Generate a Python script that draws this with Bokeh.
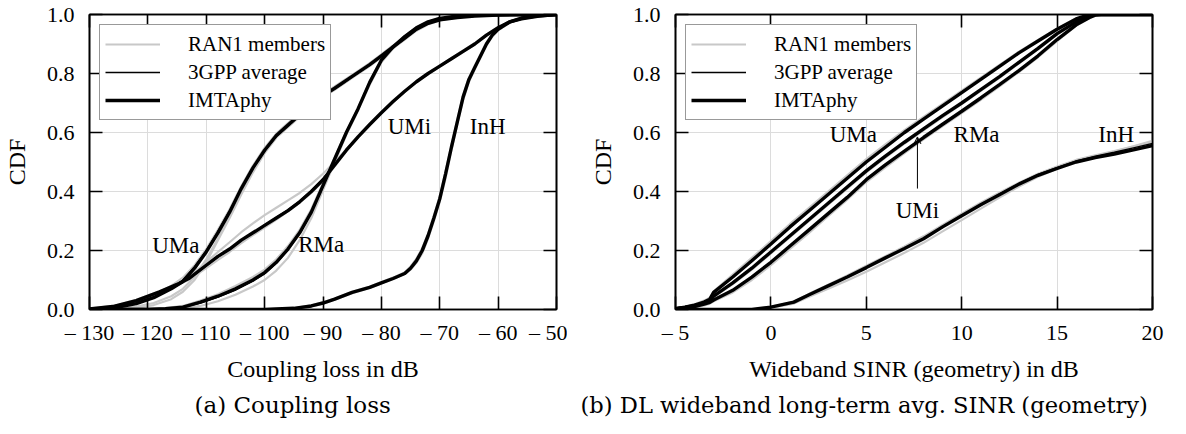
from bokeh.plotting import figure
from bokeh.layouts import row
from bokeh.models import (Legend, LegendItem, FixedTicker, LinearAxis, Title,
                          Label, Arrow, OpenHead, Range1d)
from bokeh.embed import file_html
from bokeh.resources import INLINE

FONT = "Liberation Serif"
CAP_FONT = "DejaVu Serif"

# ---------------- (a) Coupling loss data ----------------
cl_ticks = [-130, -120, -110, -100, -90, -80, -70, -60, -50]
cl_tick_labels = ["– 130", "– 120", "– 110", "– 100", "– 90", "– 80", "– 70", "– 60", "– 50"]
cdf_ticks = [0.0, 0.2, 0.4, 0.6, 0.8, 1.0]
cdf_tick_labels = ["0.0", "0.2", "0.4", "0.6", "0.8", "1.0"]

uma_cl_x = [-130, -126, -122, -119, -116, -114, -112, -110, -108, -106, -104, -102, -100, -98, -96, -94,
            -92, -90, -88, -85, -82, -80, -78, -76, -74, -72, -70, -67, -64, -60, -55, -50]
uma_cl_imt = [0.0, 0.005, 0.02, 0.04, 0.07, 0.095, 0.14, 0.195, 0.26, 0.33, 0.41, 0.48, 0.54, 0.59, 0.625, 0.66,
              0.695, 0.725, 0.75, 0.79, 0.83, 0.86, 0.89, 0.92, 0.95, 0.97, 0.982, 0.99, 0.995, 0.998, 1.0, 1.0]
uma_cl_avg = [0.0, 0.006, 0.022, 0.043, 0.072, 0.1, 0.145, 0.2, 0.265, 0.335, 0.41, 0.478, 0.537, 0.586, 0.622, 0.657,
              0.692, 0.722, 0.748, 0.788, 0.828, 0.858, 0.888, 0.918, 0.948, 0.968, 0.981, 0.99, 0.995, 0.998, 1.0, 1.0]
uma_cl_m1 = [0.0, 0.002, 0.01, 0.022, 0.045, 0.07, 0.11, 0.17, 0.24, 0.315, 0.395, 0.47, 0.535, 0.585, 0.622, 0.657,
             0.69, 0.72, 0.745, 0.785, 0.825, 0.855, 0.885, 0.915, 0.945, 0.966, 0.98, 0.99, 0.995, 0.998, 1.0, 1.0]
uma_cl_m2 = [0.001, 0.008, 0.027, 0.05, 0.08, 0.108, 0.15, 0.205, 0.27, 0.34, 0.418, 0.488, 0.548, 0.596, 0.632, 0.667,
             0.7, 0.73, 0.756, 0.795, 0.835, 0.865, 0.895, 0.925, 0.953, 0.972, 0.984, 0.991, 0.996, 0.999, 1.0, 1.0]
uma_cl_m3 = [0.0, 0.001, 0.005, 0.015, 0.035, 0.06, 0.1, 0.16, 0.235, 0.31, 0.39, 0.465, 0.53, 0.582, 0.618, 0.653,
             0.688, 0.72, 0.748, 0.788, 0.83, 0.86, 0.89, 0.92, 0.95, 0.97, 0.982, 0.99, 0.995, 0.998, 1.0, 1.0]

umi_cl_x = [-130, -126, -122, -118, -115, -113, -110, -108, -106, -104, -102, -100, -98, -96, -94, -92, -90, -88,
            -86, -84, -82, -80, -78, -76, -74, -72, -70, -68, -66, -64, -62, -60, -58, -56, -53, -50]
umi_cl_imt = [0.002, 0.01, 0.03, 0.06, 0.085, 0.105, 0.15, 0.18, 0.205, 0.235, 0.26, 0.285, 0.31, 0.335, 0.365, 0.4,
              0.44, 0.49, 0.54, 0.585, 0.627, 0.667, 0.705, 0.74, 0.772, 0.8, 0.825, 0.85, 0.875, 0.9, 0.93, 0.955,
              0.975, 0.985, 0.995, 1.0]
umi_cl_avg = [0.002, 0.011, 0.031, 0.06, 0.084, 0.104, 0.148, 0.178, 0.204, 0.234, 0.26, 0.286, 0.312, 0.338, 0.368,
              0.403, 0.443, 0.492, 0.54, 0.584, 0.625, 0.665, 0.703, 0.739, 0.771, 0.799, 0.824, 0.849, 0.874, 0.9,
              0.93, 0.955, 0.975, 0.985, 0.995, 1.0]
umi_cl_m1 = [0.001, 0.008, 0.025, 0.055, 0.085, 0.11, 0.16, 0.195, 0.228, 0.262, 0.292, 0.32, 0.345, 0.37, 0.395,
             0.425, 0.46, 0.5, 0.543, 0.585, 0.626, 0.665, 0.703, 0.738, 0.77, 0.798, 0.823, 0.848, 0.873, 0.898,
             0.928, 0.953, 0.973, 0.984, 0.994, 1.0]
umi_cl_m2 = [0.003, 0.012, 0.033, 0.062, 0.083, 0.1, 0.14, 0.168, 0.195, 0.225, 0.252, 0.278, 0.305, 0.333, 0.362,
             0.395, 0.435, 0.485, 0.537, 0.583, 0.625, 0.665, 0.703, 0.74, 0.772, 0.8, 0.826, 0.852, 0.878, 0.903,
             0.932, 0.957, 0.976, 0.986, 0.996, 1.0]

rma_cl_x = [-130, -120, -117, -114, -111, -108, -105, -102, -100, -98, -96, -94, -92, -90, -88, -86, -84, -82, -80,
            -78, -76, -74, -72, -70, -67, -63, -50]
rma_cl_imt = [0.0, 0.0, 0.003, 0.008, 0.025, 0.045, 0.07, 0.1, 0.125, 0.16, 0.205, 0.26, 0.33, 0.42, 0.51, 0.6, 0.68,
              0.77, 0.845, 0.89, 0.925, 0.955, 0.975, 0.987, 0.995, 0.999, 1.0]
rma_cl_avg = [0.0, 0.0, 0.002, 0.007, 0.022, 0.042, 0.066, 0.096, 0.121, 0.157, 0.202, 0.258, 0.328, 0.418, 0.508,
              0.598, 0.679, 0.768, 0.843, 0.889, 0.924, 0.955, 0.975, 0.987, 0.995, 0.999, 1.0]
rma_cl_m1 = [0.0, 0.0, 0.001, 0.004, 0.012, 0.028, 0.05, 0.078, 0.1, 0.132, 0.175, 0.235, 0.31, 0.405, 0.5, 0.592,
             0.675, 0.762, 0.838, 0.885, 0.922, 0.953, 0.973, 0.986, 0.995, 0.999, 1.0]
rma_cl_m2 = [0.0, 0.001, 0.005, 0.012, 0.03, 0.052, 0.08, 0.11, 0.135, 0.17, 0.215, 0.27, 0.34, 0.428, 0.515, 0.603,
             0.683, 0.772, 0.847, 0.892, 0.927, 0.956, 0.976, 0.988, 0.995, 0.999, 1.0]

inh_cl_x = [-130, -100, -95, -92, -90, -88, -85, -82, -80, -78, -76, -75, -74, -73, -72, -71, -70, -69, -68, -67,
            -66, -65, -64, -63, -62, -61, -60, -58, -56, -53, -50]
inh_cl_imt = [0.0, 0.0, 0.004, 0.012, 0.022, 0.035, 0.058, 0.075, 0.09, 0.105, 0.122, 0.14, 0.165, 0.2, 0.25, 0.31,
              0.375, 0.46, 0.55, 0.635, 0.72, 0.78, 0.82, 0.86, 0.9, 0.93, 0.95, 0.975, 0.988, 0.996, 1.0]
inh_cl_avg = [0.0, 0.0, 0.004, 0.012, 0.022, 0.035, 0.057, 0.074, 0.089, 0.104, 0.121, 0.138, 0.162, 0.197, 0.247,
              0.307, 0.372, 0.455, 0.546, 0.632, 0.716, 0.777, 0.818, 0.858, 0.898, 0.929, 0.95, 0.975, 0.988, 0.996, 1.0]
inh_cl_m1 = [0.0, 0.0, 0.003, 0.01, 0.02, 0.033, 0.055, 0.073, 0.088, 0.103, 0.12, 0.135, 0.158, 0.19, 0.24, 0.3,
             0.365, 0.445, 0.54, 0.628, 0.71, 0.772, 0.815, 0.855, 0.895, 0.925, 0.946, 0.972, 0.986, 0.995, 1.0]
inh_cl_m2 = [0.0, 0.001, 0.005, 0.014, 0.024, 0.037, 0.06, 0.078, 0.093, 0.108, 0.126, 0.146, 0.172, 0.208, 0.258,
             0.318, 0.384, 0.468, 0.558, 0.642, 0.727, 0.786, 0.826, 0.865, 0.905, 0.934, 0.954, 0.978, 0.99, 0.997, 1.0]

# ---------------- (b) Wideband SINR data ----------------
sinr_ticks = [-5, 0, 5, 10, 15, 20]
sinr_tick_labels = ["– 5", "0", "5", "10", "15", "20"]

band_x = [-5, -4.5, -4, -3.5, -3.2, -3, -2, -1, 0, 1, 2, 3, 4, 5, 6, 7, 8, 9, 10, 11, 12, 13, 14, 15, 16, 16.7,
          17, 17.3, 20]
uma_s_imt = [0.003, 0.008, 0.015, 0.025, 0.035, 0.058, 0.11, 0.165, 0.222, 0.28, 0.335, 0.39, 0.445, 0.5, 0.55,
             0.6, 0.645, 0.69, 0.735, 0.78, 0.825, 0.87, 0.91, 0.95, 0.985, 1.0, 1.0, 1.0, 1.0]
umi_s_imt = [0.003, 0.007, 0.013, 0.022, 0.03, 0.045, 0.09, 0.14, 0.195, 0.25, 0.305, 0.36, 0.415, 0.47, 0.52,
             0.567, 0.612, 0.657, 0.7, 0.745, 0.79, 0.838, 0.885, 0.935, 0.975, 0.995, 1.0, 1.0, 1.0]
rma_s_imt = [0.002, 0.006, 0.01, 0.018, 0.024, 0.032, 0.065, 0.11, 0.16, 0.215, 0.27, 0.325, 0.38, 0.44, 0.49,
             0.537, 0.583, 0.628, 0.672, 0.717, 0.763, 0.81, 0.86, 0.915, 0.965, 0.99, 0.998, 1.0, 1.0]
uma_s_m1 = [0.004, 0.01, 0.018, 0.03, 0.04, 0.062, 0.118, 0.175, 0.232, 0.29, 0.345, 0.4, 0.455, 0.51, 0.56, 0.608,
            0.653, 0.697, 0.742, 0.786, 0.83, 0.874, 0.914, 0.953, 0.987, 1.0, 1.0, 1.0, 1.0]
umi_s_m1 = [0.002, 0.006, 0.012, 0.02, 0.028, 0.042, 0.086, 0.135, 0.19, 0.245, 0.3, 0.355, 0.41, 0.465, 0.515,
            0.562, 0.607, 0.652, 0.696, 0.741, 0.786, 0.834, 0.882, 0.932, 0.973, 0.994, 1.0, 1.0, 1.0]
rma_s_m1 = [0.001, 0.004, 0.008, 0.014, 0.02, 0.028, 0.058, 0.1, 0.15, 0.205, 0.26, 0.316, 0.372, 0.432, 0.482,
            0.53, 0.577, 0.622, 0.666, 0.711, 0.757, 0.805, 0.855, 0.91, 0.962, 0.988, 0.997, 1.0, 1.0]

inh_s_x = [-5, -1, 0, 1.2, 2, 3, 4, 5, 6, 7, 8, 9, 10, 11, 12, 13, 14, 15, 16, 17, 18, 19, 20]
inh_s_imt = [0.0, 0.0, 0.008, 0.025, 0.05, 0.08, 0.11, 0.142, 0.175, 0.207, 0.24, 0.28, 0.318, 0.355, 0.39, 0.425,
             0.455, 0.478, 0.5, 0.515, 0.527, 0.541, 0.556]
inh_s_avg = [0.0, 0.0, 0.008, 0.024, 0.049, 0.079, 0.109, 0.141, 0.174, 0.206, 0.24, 0.279, 0.318, 0.356, 0.392,
             0.427, 0.458, 0.482, 0.504, 0.52, 0.533, 0.548, 0.563]
inh_s_m1 = [0.0, 0.0, 0.006, 0.02, 0.043, 0.07, 0.098, 0.128, 0.16, 0.192, 0.226, 0.265, 0.303, 0.342, 0.38, 0.417,
            0.45, 0.477, 0.502, 0.52, 0.535, 0.552, 0.568]
inh_s_m2 = [0.0, 0.0, 0.009, 0.027, 0.053, 0.084, 0.115, 0.148, 0.181, 0.214, 0.248, 0.287, 0.325, 0.362, 0.397,
            0.43, 0.46, 0.485, 0.507, 0.523, 0.537, 0.553, 0.572]

GREY = "#c8c8c8"
W_MEM, W_AVG, W_IMT = 2.2, 1.4, 3.4


def base_figure(width, height, b_left, b_right, b_top, b_bottom, xr, xticks, xlabels, xtitle):
    p = figure(width=width, height=height, output_backend="svg", toolbar_location=None,
               x_range=Range1d(*xr), y_range=Range1d(0, 1),
               min_border_left=b_left, min_border_right=b_right,
               min_border_top=b_top, min_border_bottom=b_bottom)
    p.background_fill_color = "white"
    p.border_fill_color = "white"
    p.outline_line_color = "black"
    p.outline_line_width = 1.6
    p.grid.grid_line_color = "#dcdcdc"
    p.grid.grid_line_width = 1
    p.xgrid.ticker = FixedTicker(ticks=xticks)
    p.ygrid.ticker = FixedTicker(ticks=cdf_ticks)

    xa = p.xaxis[0]
    xa.ticker = FixedTicker(ticks=xticks)
    xa.major_label_overrides = dict(zip(xticks, xlabels))
    xa.axis_label = xtitle
    ya = p.yaxis[0]
    ya.ticker = FixedTicker(ticks=cdf_ticks)
    ya.major_label_overrides = dict(zip(cdf_ticks, cdf_tick_labels))
    ya.axis_label = "CDF"
    for ax in (xa, ya):
        ax.axis_line_color = "black"
        ax.axis_line_width = 1.6
        ax.major_tick_in = 13
        ax.major_tick_out = 0
        ax.major_tick_line_width = 1.6
        ax.minor_tick_line_color = None
        ax.major_label_text_font = FONT
        ax.major_label_text_font_size = "22px"
        ax.major_label_text_color = "black"
        ax.axis_label_text_font = FONT
        ax.axis_label_text_font_size = "24px"
        ax.axis_label_text_font_style = "normal"
        ax.axis_label_text_color = "black"
    xa.major_label_standoff = 10
    xa.axis_label_standoff = 8
    ya.major_label_standoff = 15
    ya.axis_label_standoff = 14

    # mirrored inward ticks on top and right (no labels)
    for loc, tks in (("above", xticks), ("right", cdf_ticks)):
        ax = LinearAxis(ticker=FixedTicker(ticks=tks), major_label_text_color=None,
                        major_label_text_font_size="1px",
                        major_label_standoff=0, major_tick_in=13, major_tick_out=0,
                        major_tick_line_width=1.6, minor_tick_line_color=None,
                        axis_line_color="black", axis_line_width=1.6)
        p.add_layout(ax, loc)
    return p


def add_legend(p, r_mem, r_avg, r_imt):
    leg = Legend(items=[LegendItem(label="RAN1 members", renderers=[r_mem]),
                        LegendItem(label="3GPP average", renderers=[r_avg]),
                        LegendItem(label="IMTAphy", renderers=[r_imt])],
                 location="top_left", margin=10, padding=5, spacing=0,
                 glyph_width=55, glyph_height=28, label_height=28, label_standoff=28,
                 label_text_font=FONT, label_text_font_size="21px", label_text_color="black",
                 border_line_color="#333333", border_line_width=1.2,
                 background_fill_color="white", background_fill_alpha=1.0)
    p.add_layout(leg)


def label(p, x, y, text):
    p.add_layout(Label(x=x, y=y, text=text, text_font=FONT, text_font_size="23px",
                       text_align="center", text_baseline="middle", text_color="black"))


# ---------------- left figure ----------------
p1 = base_figure(567, 424, 84, 11, 14, 110, (-130, -50), cl_ticks, cl_tick_labels, "Coupling loss in dB")
mem_r = None
for xs, mems in ((uma_cl_x, (uma_cl_m1, uma_cl_m2, uma_cl_m3)), (umi_cl_x, (umi_cl_m1, umi_cl_m2)),
                 (rma_cl_x, (rma_cl_m1, rma_cl_m2)), (inh_cl_x, (inh_cl_m1, inh_cl_m2))):
    for ys in mems:
        r = p1.line(xs, ys, line_color=GREY, line_width=W_MEM)
        mem_r = mem_r or r
imt_r = avg_r = None
for xs, ya_, yi in ((uma_cl_x, uma_cl_avg, uma_cl_imt), (umi_cl_x, umi_cl_avg, umi_cl_imt),
                    (rma_cl_x, rma_cl_avg, rma_cl_imt), (inh_cl_x, inh_cl_avg, inh_cl_imt)):
    r1 = p1.line(xs, yi, line_color="black", line_width=W_IMT)
    r2 = p1.line(xs, ya_, line_color="black", line_width=W_AVG)
    imt_r = imt_r or r1
    avg_r = avg_r or r2
add_legend(p1, mem_r, avg_r, imt_r)
label(p1, -115.2, 0.218, "UMa")
label(p1, -90.3, 0.22, "RMa")
label(p1, -75.2, 0.622, "UMi")
label(p1, -61.8, 0.622, "InH")
p1.add_layout(Title(text="(a) Coupling loss", align="left", offset=105, text_font=CAP_FONT,
                    text_font_size="23px", text_font_style="normal", text_color="black"), "below")

# ---------------- right figure ----------------
p2 = base_figure(603, 424, 108, 18, 6, 115, (-5, 20), sinr_ticks, sinr_tick_labels,
                 "Wideband SINR (geometry) in dB")
mem2 = None
for ys in (uma_s_m1, umi_s_m1, rma_s_m1):
    r = p2.line(band_x, ys, line_color=GREY, line_width=W_MEM)
    mem2 = mem2 or r
for ys in (inh_s_m1, inh_s_m2):
    p2.line(inh_s_x, ys, line_color=GREY, line_width=W_MEM)
imt2 = None
for ys in (uma_s_imt, umi_s_imt, rma_s_imt):
    r = p2.line(band_x, ys, line_color="black", line_width=W_IMT)
    imt2 = imt2 or r
r_inh = p2.line(inh_s_x, inh_s_imt, line_color="black", line_width=W_IMT)
avg2 = p2.line(inh_s_x, inh_s_avg, line_color="black", line_width=W_AVG)
add_legend(p2, mem2, avg2, imt2)
label(p2, 4.32, 0.594, "UMa")
label(p2, 10.78, 0.594, "RMa")
label(p2, 18.1, 0.594, "InH")
label(p2, 7.68, 0.336, "UMi")
p2.add_layout(Arrow(end=OpenHead(size=7, line_width=1), x_start=7.68, y_start=0.41, x_end=7.68, y_end=0.585,
                    line_width=1, line_color="black"))
p2.add_layout(Title(text="(b) DL wideband long-term avg. SINR (geometry)", align="left", offset=-95,
                    text_font=CAP_FONT, text_font_size="22.6px", text_font_style="normal", text_color="black"),
              "below")

layout = row(p1, p2, spacing=0)
open("out.html", "w").write(file_html(layout, INLINE))
